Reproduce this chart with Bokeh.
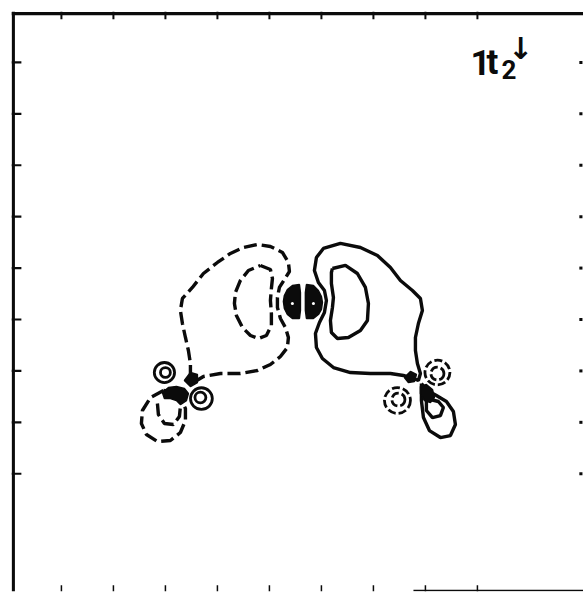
from bokeh.plotting import figure
from bokeh.models import Range1d
from bokeh.embed import file_html
from bokeh.resources import INLINE
from bokeh.core.properties import value

# ---- grid ticks (arbitrary length units) ----
x_ticks = [1, 2, 3, 4, 5, 6, 7, 8, 9]
y_ticks = [2, 3, 4, 5, 6, 7, 8, 9, 10]

# ---- negative lobe (dashed contours) ----
neg_outer_x = [3.538, 3.731, 4.058, 4.442, 4.769, 5.019, 5.212, 5.346, 5.365, 5.308, 5.212, 5.154,
               5.154, 5.192, 5.288, 5.385, 5.365, 5.250, 5.019, 4.769, 4.500, 4.250, 4.000, 3.731,
               3.519, 3.327, 3.288, 3.327, 3.385, 3.442, 3.481, 3.481, 3.519, 3.538]
neg_outer_y = [3.774, 3.891, 3.949, 3.949, 4.008, 4.125, 4.280, 4.455, 4.650, 4.844, 5.019, 5.233,
               5.428, 5.623, 5.778, 5.934, 6.109, 6.304, 6.420, 6.459, 6.401, 6.284, 6.109, 5.895,
               5.623, 5.409, 5.175, 4.922, 4.650, 4.397, 4.144, 3.949, 3.833, 3.774]
neg_inner_x = [4.827, 5.019, 5.058, 5.038, 5.019, 5.038, 5.038, 4.942, 4.788, 4.635, 4.481, 4.365,
               4.327, 4.346, 4.442, 4.596, 4.827]
neg_inner_y = [6.051, 5.973, 5.798, 5.603, 5.370, 5.117, 4.883, 4.689, 4.630, 4.689, 4.844, 5.078,
               5.311, 5.525, 5.759, 5.953, 6.051]
neg_lig_loop_x = [2.962, 2.712, 2.558, 2.538, 2.635, 2.846, 3.096, 3.288, 3.385, 3.385, 3.288, 3.135, 2.962]
neg_lig_loop_y = [3.619, 3.482, 3.230, 2.977, 2.763, 2.626, 2.646, 2.802, 3.035, 3.268, 3.463, 3.599, 3.619]
neg_lig_arc_x = [2.846, 2.865, 2.981, 3.154, 3.269, 3.288]
neg_lig_arc_y = [3.366, 3.152, 2.977, 2.957, 3.113, 3.307]

# ---- positive lobe (solid contours) ----
pos_outer_x = [7.769, 7.577, 7.327, 6.942, 6.558, 6.231, 6.019, 5.904, 5.885, 5.962, 6.058, 6.096,
               6.058, 5.942, 5.865, 5.904, 6.038, 6.365, 6.750, 7.077, 7.327, 7.519, 7.750, 7.904,
               7.942, 7.865, 7.808, 7.808, 7.846, 7.904, 7.865, 7.769]
pos_outer_y = [3.852, 3.911, 3.949, 3.949, 3.969, 4.066, 4.241, 4.455, 4.728, 4.942, 5.136, 5.370,
               5.564, 5.720, 5.953, 6.206, 6.381, 6.479, 6.401, 6.245, 6.012, 5.759, 5.564, 5.409,
               5.175, 4.922, 4.650, 4.397, 4.144, 3.949, 3.813, 3.852]
pos_inner_x = [6.212, 6.462, 6.692, 6.846, 6.904, 6.885, 6.750, 6.519, 6.308, 6.192, 6.173, 6.212,
               6.231, 6.192, 6.192, 6.212]
pos_inner_y = [5.992, 6.051, 5.895, 5.623, 5.311, 4.981, 4.786, 4.650, 4.630, 4.747, 4.981, 5.233,
               5.428, 5.700, 5.914, 5.992]
pos_lig_loop_x = [7.923, 7.923, 7.962, 8.077, 8.288, 8.481, 8.577, 8.538, 8.404, 8.212, 8.038, 7.923]
pos_lig_loop_y = [3.755, 3.424, 3.093, 2.840, 2.704, 2.743, 2.957, 3.210, 3.405, 3.521, 3.619, 3.755]
pos_lig_arc_x = [8.019, 8.019, 8.135, 8.288, 8.346, 8.250, 8.096, 8.019]
pos_lig_arc_y = [3.424, 3.230, 3.093, 3.132, 3.288, 3.405, 3.444, 3.424]

# ---- small closed rings around ligand atoms ----
pos_ring_x = [2.981, 3.000, 3.692, 3.673]
pos_ring_y = [3.969, 3.969, 3.463, 3.482]
pos_ring_d = [0.39, 0.19, 0.42, 0.21]
neg_ring_x = [8.231, 8.231, 7.462, 7.481]
neg_ring_y = [3.969, 3.949, 3.424, 3.443]
neg_ring_d = [0.48, 0.25, 0.50, 0.25]

# ---- densely packed (filled) contour cores ----
core_left_x = [5.577, 5.442, 5.346, 5.288, 5.269, 5.288, 5.346, 5.442, 5.577, 5.596, 5.596]
core_left_y = [5.681, 5.661, 5.584, 5.467, 5.350, 5.214, 5.097, 5.019, 5.019, 5.175, 5.525]
core_right_x = [5.712, 5.846, 5.942, 6.000, 6.019, 6.000, 5.942, 5.846, 5.712, 5.692, 5.692]
core_right_y = [5.681, 5.661, 5.564, 5.447, 5.331, 5.195, 5.097, 5.019, 5.019, 5.175, 5.525]
lig_a_x = [3.365, 3.481, 3.615, 3.615, 3.481]
lig_a_y = [3.813, 3.969, 3.930, 3.774, 3.696]
lig_b_x = [2.942, 3.058, 3.212, 3.365, 3.442, 3.404, 3.288, 3.212, 3.096, 2.981]
lig_b_y = [3.580, 3.677, 3.696, 3.658, 3.560, 3.424, 3.346, 3.424, 3.463, 3.463]
lig_c_x = [7.596, 7.712, 7.827, 7.788, 7.673]
lig_c_y = [3.872, 3.988, 3.930, 3.794, 3.774]
lig_d_x = [7.904, 8.019, 8.135, 8.173, 8.096, 7.981, 7.904]
lig_d_y = [3.696, 3.735, 3.638, 3.482, 3.385, 3.424, 3.560]
core_dot_x = [5.442, 5.846]
core_dot_y = [5.311, 5.311]

INK = "#0b0b0b"
DASH = "13 5"

X0, X1 = 0.04, 11.04
Y0, Y1 = -0.29, 10.99

p = figure(width=583, height=592,
           x_range=Range1d(X0, X1), y_range=Range1d(Y0, Y1),
           output_backend="svg", toolbar_location=None,
           x_axis_location=None, y_axis_location=None,
           min_border_left=11, min_border_top=11, min_border_right=0, min_border_bottom=1)
p.grid.visible = False
p.outline_line_color = None
p.background_fill_color = "white"
p.border_fill_color = "white"

# frame edges: heavy top and left, lower edge only partly inked
p.line(x=[X0, X1], y=[Y1 - 0.04, Y1 - 0.04], line_color=INK, line_width=3.2)
p.line(x=[X0 + 0.035, X0 + 0.035], y=[Y1, Y0], line_color=INK, line_width=3.2)
p.line(x=[7.77, X1], y=[Y0 + 0.02, Y0 + 0.02], line_color=INK, line_width=1.5)

# inward tick marks on all four sides
n = len(x_ticks)
p.segment(x0=x_ticks, y0=[Y1] * n, x1=x_ticks, y1=[Y1 - 0.15] * n, line_color=INK, line_width=2)
p.segment(x0=x_ticks, y0=[Y0] * n, x1=x_ticks, y1=[Y0 + 0.12] * n, line_color=INK, line_width=1.5)
m = len(y_ticks)
p.segment(x0=[X0] * m, y0=y_ticks, x1=[X0 + 0.19] * m, y1=y_ticks, line_color=INK, line_width=2.2)
p.segment(x0=[X1 - 0.08] * m, y0=y_ticks, x1=[X1 - 0.02] * m, y1=y_ticks, line_color=INK, line_width=3)

# dashed (negative) contours
p.multi_line(xs=[neg_outer_x, neg_inner_x, neg_lig_loop_x, neg_lig_arc_x],
             ys=[neg_outer_y, neg_inner_y, neg_lig_loop_y, neg_lig_arc_y],
             line_color=INK, line_width=3.4, line_dash=DASH)
p.ellipse(x=neg_ring_x, y=neg_ring_y, width=neg_ring_d, height=neg_ring_d,
          fill_color=None, line_color=INK, line_width=2.8, line_dash="8 3")

# solid (positive) contours
p.multi_line(xs=[pos_outer_x, pos_inner_x, pos_lig_loop_x, pos_lig_arc_x],
             ys=[pos_outer_y, pos_inner_y, pos_lig_loop_y, pos_lig_arc_y],
             line_color=INK, line_width=3.4)
p.ellipse(x=pos_ring_x, y=pos_ring_y, width=pos_ring_d, height=pos_ring_d,
          fill_color=None, line_color=INK, line_width=2.8)

# filled cores where contours crowd together
p.patches(xs=[core_left_x, core_right_x, lig_a_x, lig_b_x, lig_c_x, lig_d_x],
          ys=[core_left_y, core_right_y, lig_a_y, lig_b_y, lig_c_y, lig_d_y],
          fill_color=INK, line_color=INK, line_width=1.5)
p.scatter(x=core_dot_x, y=core_dot_y, size=3, color="white", line_color=None)

# orbital label 1t2 (spin down)
label_font = value("Roboto")
p.text(x=[9.06], y=[9.99], text=["1"], text_font=label_font, text_font_style="bold",
       text_font_size="35px", text_color=INK, text_baseline="middle", text_align="center")
p.text(x=[9.29], y=[9.99], text=["t"], text_font=label_font, text_font_style="bold",
       text_font_size="35px", text_color=INK, text_baseline="middle", text_align="center")
p.text(x=[9.606], y=[9.864], text=["2"], text_font=label_font, text_font_style="bold",
       text_font_size="26px", text_color=INK, text_baseline="middle", text_align="center")
p.text(x=[9.83], y=[10.28], text=["\u2193"], text_font=value("DejaVu Sans"), text_font_style="bold",
       text_font_size="30px", text_color=INK, text_baseline="middle", text_align="center")

open("out.html", "w").write(file_html(p, INLINE))
